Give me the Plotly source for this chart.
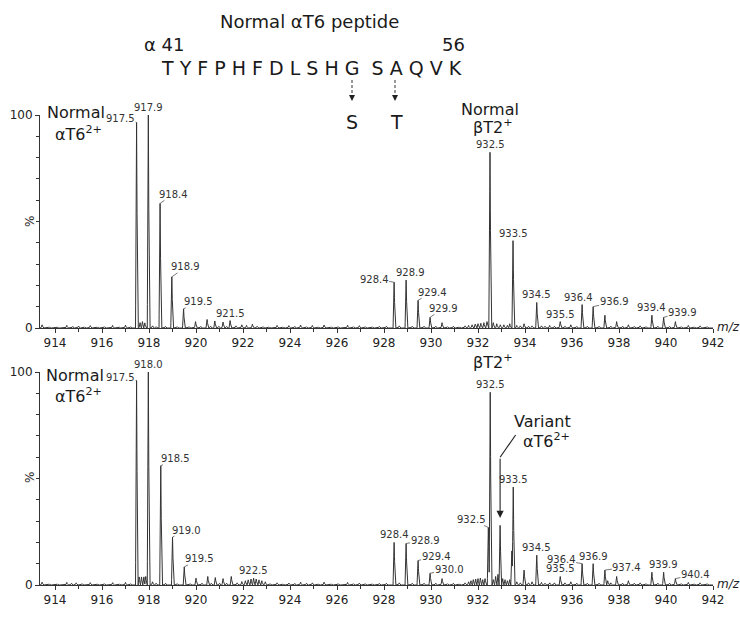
import numpy as np
import plotly.graph_objects as go

# ---------------- DATA ----------------
# Upper spectrum (normal): peak centroids (m/z) and relative intensity (%)
top_mz = [913.45, 913.75, 914.1, 914.5, 914.75, 915.0, 915.25, 915.5, 915.8, 916.1, 916.45, 916.75,
          917.0, 917.22, 917.47, 917.62, 917.72, 917.82, 917.97, 918.15, 918.3, 918.47, 918.7, 918.97,
          919.2, 919.47, 919.7, 919.98, 920.2, 920.47, 920.62, 920.8, 920.97, 921.15, 921.3, 921.45,
          921.7, 921.95, 922.15, 922.4, 922.6, 922.85, 923.1, 923.45, 923.7, 923.95, 924.2, 924.45,
          924.7, 924.95, 925.2, 925.45, 925.75, 926.05, 926.45, 926.7, 926.95, 927.2, 927.5, 927.8,
          928.1, 928.43, 928.65, 928.94, 929.2, 929.45, 929.7, 929.96, 930.2, 930.47, 930.7, 930.95,
          931.2, 931.45, 931.6, 931.75, 931.88, 932.0, 932.12, 932.25, 932.38, 932.51, 932.65, 932.8,
          932.95, 933.1, 933.25, 933.35, 933.49, 933.65, 933.8, 933.96, 934.15, 934.3, 934.5, 934.7,
          934.85, 935.05, 935.25, 935.5, 935.7, 935.95, 936.2, 936.43, 936.65, 936.9, 937.15, 937.4,
          937.65, 937.9, 938.15, 938.4, 938.65, 938.9, 939.15, 939.4, 939.65, 939.9, 940.15, 940.4,
          940.65, 940.95, 941.2, 941.45, 941.75]
top_int = [1.5, 0.5, 0.4, 1.2, 0.7, 0.9, 0.5, 1.1, 0.5, 0.6, 1.2, 0.4,
           1.3, 0.6, 96.5, 2.5, 3.0, 2.4, 100.0, 1.0, 0.6, 58.5, 0.7, 24.0,
           0.6, 9.0, 0.6, 3.0, 0.7, 4.0, 0.8, 3.3, 0.8, 2.8, 0.7, 3.5,
           1.0, 1.5, 1.2, 1.8, 0.8, 0.6, 0.5, 1.2, 0.5, 1.1, 0.7, 1.4,
           0.6, 1.2, 0.5, 1.4, 0.5, 0.6, 1.3, 0.6, 1.1, 0.6, 0.5, 0.7,
           0.8, 21.5, 1.0, 22.5, 0.8, 13.0, 0.8, 5.0, 0.8, 2.5, 0.6, 0.8,
           0.5, 1.0, 1.2, 1.5, 1.8, 2.0, 2.2, 2.5, 3.0, 82.5, 2.5, 2.0,
           1.5, 1.5, 1.2, 2.0, 41.0, 1.2, 1.0, 2.0, 0.8, 1.0, 12.0, 1.0,
           0.8, 1.2, 0.8, 3.0, 0.8, 1.5, 0.7, 11.0, 0.8, 10.0, 0.8, 6.0,
           0.8, 3.0, 0.8, 1.5, 0.7, 1.0, 0.6, 6.0, 0.8, 5.0, 0.7, 3.0,
           0.6, 1.2, 0.5, 1.0, 0.6]

# Lower spectrum (variant sample)
bot_mz = [913.45, 913.75, 914.1, 914.5, 914.7, 914.9, 915.15, 915.5, 915.8, 916.1, 916.45, 916.75,
          917.0, 917.22, 917.47, 917.58, 917.68, 917.78, 917.86, 917.97, 918.15, 918.3, 918.5, 918.7,
          919.0, 919.2, 919.5, 919.75, 920.0, 920.25, 920.5, 920.65, 920.82, 921.0, 921.15, 921.3,
          921.5, 921.75, 921.95, 922.1, 922.22, 922.34, 922.45, 922.56, 922.68, 922.8, 922.95,
          923.15, 923.45, 923.7, 923.95, 924.2, 924.45, 924.7, 924.95, 925.2, 925.45, 925.75,
          926.05, 926.45, 926.7, 926.95, 927.2, 927.5, 927.8, 928.1, 928.43, 928.65, 928.94, 929.2,
          929.45, 929.7, 929.96, 930.2, 930.47, 930.7, 930.95, 931.2, 931.45, 931.6, 931.7, 931.8,
          931.9, 932.0, 932.1, 932.2, 932.3, 932.44, 932.52, 932.65, 932.75, 932.85, 932.94, 933.05,
          933.15, 933.25, 933.35, 933.44, 933.5, 933.65, 933.8, 933.96, 934.15, 934.3, 934.5, 934.7,
          934.85, 935.05, 935.25, 935.5, 935.7, 935.95, 936.2, 936.43, 936.65, 936.9, 937.15, 937.4,
          937.52, 937.65, 937.9, 938.15, 938.4, 938.65, 938.9, 939.15, 939.4, 939.65, 939.9, 940.15,
          940.4, 940.65, 940.95, 941.2, 941.45, 941.75]
bot_int = [1.3, 0.5, 0.5, 1.2, 0.8, 1.0, 0.6, 1.1, 0.5, 0.6, 1.1, 0.5,
           1.2, 0.6, 96.0, 3.8, 3.8, 3.8, 4.0, 100.0, 1.5, 0.8, 56.0, 0.8,
           22.5, 0.6, 8.5, 0.6, 3.2, 0.8, 4.0, 0.8, 3.5, 0.8, 3.0, 0.8,
           4.0, 1.0, 1.6, 2.0, 2.4, 2.8, 3.2, 2.8, 2.4, 2.0, 1.5,
           0.6, 1.0, 0.5, 0.9, 0.7, 1.3, 0.8, 1.0, 0.5, 1.3, 0.5,
           0.6, 1.2, 0.6, 0.9, 0.6, 0.5, 0.7, 0.8, 20.0, 1.0, 19.5, 0.8,
           11.5, 0.8, 5.5, 0.8, 3.0, 0.6, 0.8, 0.5, 1.0, 1.5, 2.0, 2.5,
           2.8, 3.0, 3.2, 2.5, 3.0, 27.0, 90.5, 2.5, 4.0, 5.0, 28.0, 3.0,
           2.5, 2.0, 2.5, 16.0, 46.0, 1.5, 1.0, 7.0, 1.0, 1.5, 14.0, 1.2,
           0.8, 1.0, 1.0, 4.0, 1.0, 1.5, 0.8, 10.0, 0.8, 10.0, 0.8, 7.0,
           2.0, 1.0, 4.0, 0.8, 2.0, 0.8, 1.0, 0.6, 6.0, 0.8, 6.0, 0.8,
           3.0, 0.6, 1.2, 0.5, 1.0, 0.6]

# Peak labels (text, and the m/z of the peak they annotate)
top_label_text = ["917.5", "917.9", "918.4", "918.9", "919.5", "921.5", "928.4", "928.9", "929.4",
                  "929.9", "932.5", "933.5", "934.5", "935.5", "936.4", "936.9", "939.4", "939.9"]
top_label_mz = [917.47, 917.97, 918.47, 918.97, 919.47, 921.45, 928.43, 928.94, 929.45,
                929.96, 932.51, 933.49, 934.5, 935.5, 936.43, 936.9, 939.4, 939.9]
bot_label_text = ["917.5", "918.0", "918.5", "919.0", "919.5", "922.5", "928.4", "928.9", "929.4",
                  "930.0", "932.5", "932.5", "933.5", "934.5", "935.5", "936.4", "936.9", "937.4",
                  "939.9", "940.4"]
bot_label_mz = [917.47, 917.97, 918.5, 919.0, 919.5, 922.45, 928.43, 928.94, 929.45,
                929.96, 932.44, 932.52, 933.5, 934.5, 935.5, 936.43, 936.9, 937.4,
                939.9, 940.4]

x_ticks = list(range(914, 943, 2))
x_tick_text = [str(v) for v in x_ticks]
y_ticks = [0, 100]

peptide_title = "Normal αT6 peptide"
sequence = "TYFPHFDLSHG SAQVK"

# ---------------- LAYOUT / STYLE ----------------
W, H = 740, 624
FONT = "DejaVu Sans"
LINE = "#333333"
TXT = "#1a1a1a"
PEAK_HALF_WIDTH = 0.045
X_RANGE = [913.36, 942.0]


def pxx(x):
    return x / W


def pxy(y):
    return 1 - y / H


def spectrum(mz, inten):
    grid = np.arange(X_RANGE[0], X_RANGE[1] + 0.0001, 0.005)
    y = np.zeros_like(grid)
    for m, h in zip(mz, inten):
        tri = h * np.clip(1 - np.abs(grid - m) / PEAK_HALF_WIDTH, 0, None)
        y = np.maximum(y, tri)
    return grid, y


fig = go.Figure()
gx, gy = spectrum(top_mz, top_int)
fig.add_trace(go.Scatter(x=gx, y=gy, mode="lines", line=dict(color=LINE, width=1),
                         xaxis="x", yaxis="y", hoverinfo="skip", showlegend=False))
gx2, gy2 = spectrum(bot_mz, bot_int)
fig.add_trace(go.Scatter(x=gx2, y=gy2, mode="lines", line=dict(color=LINE, width=1),
                         xaxis="x2", yaxis="y2", hoverinfo="skip", showlegend=False))

x_dom = [pxx(40), pxx(713)]
top_dom = [pxy(328), pxy(115)]
bot_dom = [pxy(585), pxy(372)]

axis_common = dict(showgrid=False, zeroline=False, showline=True, linecolor=LINE, linewidth=1,
                   automargin=False,
                   tickfont=dict(family=FONT, size=12, color="#222"), tickcolor=LINE)
xaxis_cfg = dict(axis_common, range=X_RANGE, tickmode="array", tickvals=x_ticks,
                 ticktext=x_tick_text, ticks="outside", ticklen=4, domain=x_dom,
                 minor=dict(ticks="outside", ticklen=3, dtick=1, tick0=913, tickcolor=LINE))
yaxis_cfg = dict(axis_common, range=[0, 100], tickmode="array", tickvals=y_ticks,
                 ticks="outside", ticklen=4,
                 minor=dict(ticks="outside", ticklen=3, tickvals=list(range(10, 100, 10)),
                            tickcolor=LINE))

fig.update_layout(
    width=W, height=H, margin=dict(l=0, r=0, t=0, b=0, autoexpand=False),
    paper_bgcolor="white", plot_bgcolor="white",
    xaxis=dict(xaxis_cfg, anchor="y"),
    yaxis=dict(yaxis_cfg, anchor="x", domain=top_dom),
    xaxis2=dict(xaxis_cfg, anchor="y2"),
    yaxis2=dict(yaxis_cfg, anchor="x2", domain=bot_dom),
    font=dict(family=FONT, color=TXT),
)

# peak label placement offsets (pixels): None = directly above the peak
top_offsets = [(-16, -4), None, (13, -9), (14, -10), (15, -7), None, (-20, -3), (4, None),
               (14, -8), (13, -9), None, None, None, None, (-4, None), (21, -5), None, (19, -5)]
bot_offsets = [(-16, -3), None, (15, -7), (14, -7), (15, -8), None, None, (19, -3), (18, -4),
               (19, -4), (-17, -8), None, None, None, None, (-21, -4), None, (22, -3), None, (20, -4)]

annotations = []


def add_labels(texts, mzs, offsets, mz_list, int_list, xr, yr):
    lookup = dict(zip(mz_list, int_list))
    for t, m, off in zip(texts, mzs, offsets):
        h = lookup[m]
        base = dict(x=m, y=h, xref=xr, yref=yr, text=t,
                    font=dict(family=FONT, size=10, color="#333"))
        if off is None or off[1] is None:
            shift = 0 if off is None else off[0]
            annotations.append(dict(base, showarrow=False, yanchor="bottom", xanchor="center",
                                    xshift=shift, yshift=0))
        else:
            annotations.append(dict(base, showarrow=True, arrowhead=0, arrowwidth=0.8,
                                    arrowcolor="#555", ax=off[0], ay=off[1], borderpad=0))


add_labels(top_label_text, top_label_mz, top_offsets, top_mz, top_int, "x", "y")
add_labels(bot_label_text, bot_label_mz, bot_offsets, bot_mz, bot_int, "x2", "y2")

big = dict(family=FONT, size=16, color=TXT)


def ptext(x, y, text, font, **kw):
    return dict(x=pxx(x), y=pxy(y), xref="paper", yref="paper", text=text,
                xanchor="center", yanchor="middle", showarrow=False, font=font, **kw)


annotations += [
    ptext(76, 112, "Normal", big),
    ptext(78, 133, "αT6<sup>2+</sup>", big),
    ptext(490, 109, "Normal", big),
    ptext(493, 127, "βT2<sup>+</sup>", big),
    ptext(75, 375, "Normal", big),
    ptext(78, 395, "αT6<sup>2+</sup>", big),
    ptext(493, 361, "βT2<sup>+</sup>", big),
    ptext(542, 421, "Variant", big),
    ptext(546, 440, "αT6<sup>2+</sup>", big),
    # y-axis titles
    ptext(30, 222, "%", dict(family=FONT, size=12, color="#222"), textangle=-90),
    ptext(30, 478, "%", dict(family=FONT, size=12, color="#222"), textangle=-90),
    # m/z axis labels
    ptext(728, 327, "<i>m/z</i>", dict(family=FONT, size=12, color="#222")),
    ptext(728, 584, "<i>m/z</i>", dict(family=FONT, size=12, color="#222")),
    # header
    ptext(309, 22, peptide_title, dict(family=FONT, size=18, color=TXT)),
    ptext(164, 45, "α 41", dict(family=FONT, size=18, color=TXT)),
    ptext(454, 45, "56", dict(family=FONT, size=18, color=TXT)),
    ptext(311, 68, " ".join(sequence).replace("   ", "  "), dict(family=FONT, size=19, color=TXT)),
    ptext(352, 122, "S", dict(family=FONT, size=19, color=TXT)),
    ptext(396, 122, "T", dict(family=FONT, size=19, color=TXT)),
    # vertical arrow to the variant peak
    dict(x=932.94, y=31.5, xref="x2", yref="y2", ax=932.94, ay=60.0, axref="x2", ayref="y2",
         text="", showarrow=True, arrowhead=2, arrowsize=1.3, arrowwidth=1.1, arrowcolor="#222"),
]
for xa in (352, 395):
    annotations.append(dict(x=pxx(xa), y=pxy(101), xref="paper", yref="paper", ax=0, ay=-7,
                            text="", showarrow=True, arrowhead=2, arrowsize=1.2, arrowwidth=1,
                            arrowcolor="#222"))

shapes = [
    dict(type="line", xref="x2", yref="y2", x0=933.6, y0=70.4, x1=932.94, y1=60.0,
         line=dict(color="#222", width=1.1)),
]
for xa in (352, 395):
    shapes.append(dict(type="line", xref="paper", yref="paper", x0=pxx(xa), x1=pxx(xa),
                       y0=pxy(80), y1=pxy(95), line=dict(color="#333", width=1, dash="3px,2px")))

fig.update_layout(annotations=annotations, shapes=shapes)
fig.write_html("out.html", config={"displayModeBar": False},
               post_script="document.body.style.margin='0';")
